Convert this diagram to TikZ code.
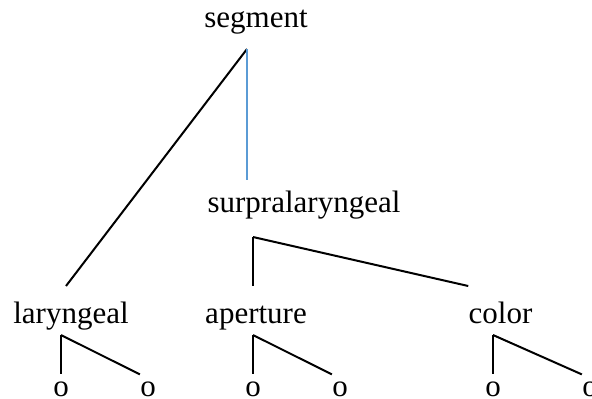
\documentclass[tikz,border=0pt]{standalone}
\usepackage{fontspec}
\setmainfont{Liberation Serif}
\usepackage{tikz}
\usetikzlibrary{positioning}
\definecolor{spineblue}{RGB}{91,155,213}

\begin{document}
\begin{tikzpicture}[
	x=0.5pt, y=-0.5pt,
	every node/.style={font=\fontsize{15.5}{18}\selectfont},
	lbl/.style={anchor=base, inner sep=0pt, text height=10.5pt, text depth=3.5pt, outer ysep=8pt},
	leaf/.style={anchor=base, inner sep=0pt, outer ysep=3.5pt},
	branch/.style={line width=1pt},
	spine/.style={line width=1pt, draw=spineblue}
	]
	
	\useasboundingbox (0,0) rectangle (592,398);
	
	% feature nodes
	\node[lbl] (seg) at (256,27) {segment};
	\node[lbl, outer ysep=5.5pt] (sur) at (304,212) {surpralaryngeal};
	\node[lbl] (lar) at (71,323) {laryngeal};
	\node[lbl] (ape) at (256,323) {aperture};
	\node[lbl] (col) at (500.5,323) {color};
	
	% terminal slots
	\node[leaf] (lo1) at (61,396) {o};
	\node[leaf] (lo2) at (148,396) {o};
	\node[leaf] (ao1) at (253,396) {o};
	\node[leaf] (ao2) at (340,396) {o};
	\node[leaf] (co1) at (493,396) {o};
	\node[leaf] (co2) at (590,396) {o};
	
	% branching points
	\coordinate (segJ) at (247,49);
	\coordinate (surJ) at (253,237);
	\coordinate (larJ) at (61,335);
	\coordinate (apeJ) at (253,335);
	\coordinate (colJ) at (493,335);
	
	\draw[branch] (segJ) -- ([xshift=-2.5pt]lar.north);
	\draw[spine] (segJ) -- (segJ |- sur.north);
	
	\draw[branch] (surJ) -- (surJ |- ape.north);
	\draw[branch] (surJ) -- (col.north west);
	
	\draw[branch] (larJ) -- (lo1.north);
	\draw[branch] (larJ) -- (lo2.north west);
	\draw[branch] (apeJ) -- (ao1.north);
	\draw[branch] (apeJ) -- (ao2.north west);
	\draw[branch] (colJ) -- (co1.north);
	\draw[branch] (colJ) -- (co2.north west);
	
\end{tikzpicture}
\end{document}
